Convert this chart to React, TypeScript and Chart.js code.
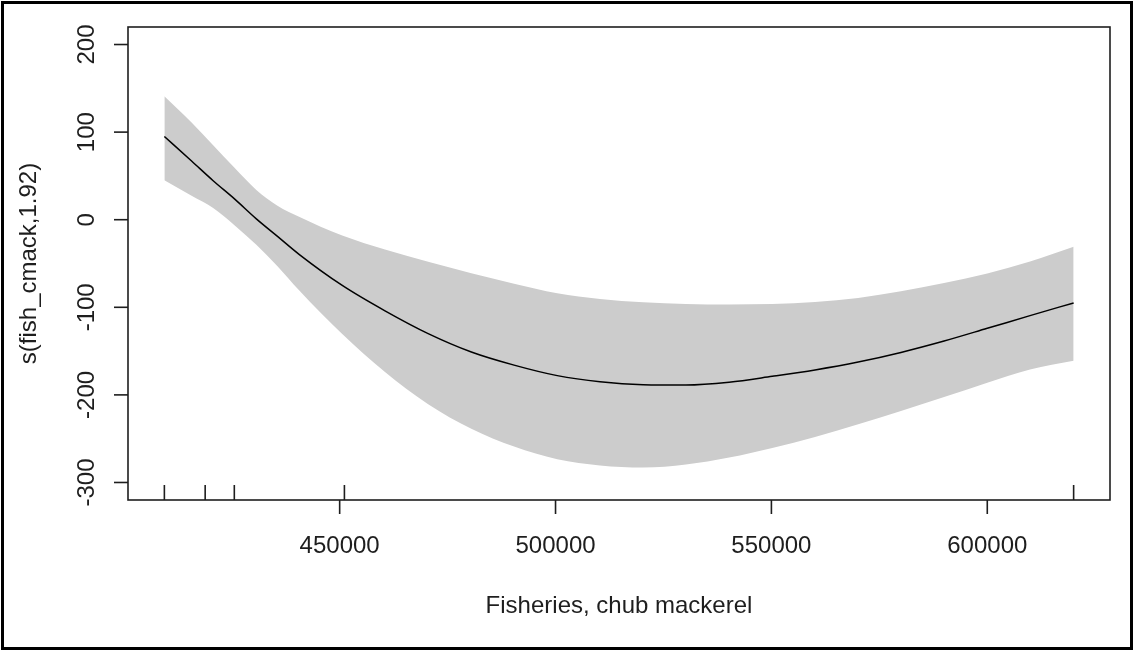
import React, { useEffect, useRef } from "react";
import { Chart, registerables } from "chart.js";

Chart.register(...registerables);

// Smooth term of the GAM: fitted curve with its confidence band
const xPoints = [
  409400, 415700, 420700, 425700, 430700, 435600, 440600, 450600, 460500, 470500, 480500, 490400,
  500400, 510300, 520300, 530200, 540200, 550200, 560100, 570100, 580000, 590000, 600000, 609900,
  620000,
];
const fitValues = [
  95, 67, 44.5, 23.5, 1, -19, -39.5, -75, -104, -130, -151, -166,
  -178, -185, -188.3, -188.7, -185.5, -178.8, -171.5, -162.5, -151.5, -138.5, -124, -109.5,
  -95,
];
const upperValues = [
  141, 111, 85, 59, 34, 16, 3.5, -18, -34, -48, -61, -73,
  -84, -90.5, -94.3, -96.2, -96.8, -96.3, -94, -89.3, -81.8, -72.3, -61.3, -47.7,
  -31,
];
const lowerValues = [
  45, 27.4, 13.4, -6.5, -28.6, -53, -80.6, -130.6, -174, -210.6, -238.6, -259,
  -273.5, -280.5, -283, -279.5, -271.5, -260.5, -248, -233.5, -218.5, -202.5, -186, -171,
  -161,
];

// Observed covariate values (rug marks)
const rugValues = [409400, 418850, 425600, 451100, 620000];

// Axis ticks and titles
const xTickValues = [450000, 500000, 550000, 600000];
const yTickValues = [-300, -200, -100, 0, 100, 200];
const xTitle = "Fisheries, chub mackerel";
const yTitle = "s(fish_cmack,1.92)";

const X_MIN = 400976;
const X_MAX = 628424;
const Y_MIN = -320;
const Y_MAX = 220;

const FONT = '24px "Liberation Sans", Arial, sans-serif';
const INK = "#1e1e1e";

// Base-graphics style frame: box, outward ticks, rotated y labels, rug
const basePlotFrame = {
  id: "basePlotFrame",
  afterDatasetsDraw(chart: any) {
    const { ctx, chartArea: a, scales } = chart;
    const xs = scales.x;
    const ys = scales.y;
    ctx.save();

    ctx.strokeStyle = INK;
    ctx.lineWidth = 1.6;
    ctx.strokeRect(a.left, a.top, a.right - a.left, a.bottom - a.top);

    ctx.fillStyle = INK;
    ctx.font = FONT;

    // x axis ticks and labels
    ctx.textAlign = "center";
    ctx.textBaseline = "alphabetic";
    xTickValues.forEach((v) => {
      const px = xs.getPixelForValue(v);
      ctx.beginPath();
      ctx.moveTo(px, a.bottom);
      ctx.lineTo(px, a.bottom + 14);
      ctx.stroke();
      ctx.fillText(String(v), px, a.bottom + 53);
    });

    // rug along the bottom
    rugValues.forEach((v) => {
      const px = xs.getPixelForValue(v);
      ctx.beginPath();
      ctx.moveTo(px, a.bottom);
      ctx.lineTo(px, a.bottom - 15);
      ctx.stroke();
    });

    // y axis ticks and rotated labels
    yTickValues.forEach((v) => {
      const py = ys.getPixelForValue(v);
      ctx.beginPath();
      ctx.moveTo(a.left, py);
      ctx.lineTo(a.left - 14, py);
      ctx.stroke();
      ctx.save();
      ctx.translate(a.left - 34, py);
      ctx.rotate(-Math.PI / 2);
      ctx.textAlign = "center";
      ctx.fillText(String(v), 0, 0);
      ctx.restore();
    });

    // axis titles
    ctx.textAlign = "center";
    ctx.fillText(xTitle, (a.left + a.right) / 2, a.bottom + 113);
    ctx.save();
    ctx.translate(a.left - 92.5, (a.top + a.bottom) / 2);
    ctx.rotate(-Math.PI / 2);
    ctx.fillText(yTitle, 0, 0);
    ctx.restore();

    ctx.restore();
  },
  afterDraw(chart: any) {
    const { ctx } = chart;
    ctx.save();
    ctx.strokeStyle = "#000";
    ctx.lineWidth = 3;
    ctx.strokeRect(2.5, 2.5, 1129, 646);
    ctx.restore();
  },
};

const toPoints = (ys: number[]) => xPoints.map((x, i) => ({ x, y: ys[i] }));

export default function App() {
  const canvasRef = useRef<HTMLCanvasElement | null>(null);

  useEffect(() => {
    if (!canvasRef.current) return;
    const chart = new Chart(canvasRef.current, {
      type: "line",
      data: {
        datasets: [
          {
            label: "upper",
            data: toPoints(upperValues),
            borderWidth: 0,
            borderColor: "rgba(0,0,0,0)",
            backgroundColor: "#cccccc",
            fill: "+1",
            pointRadius: 0,
            cubicInterpolationMode: "monotone",
            order: 2,
          },
          {
            label: "lower",
            data: toPoints(lowerValues),
            borderWidth: 0,
            borderColor: "rgba(0,0,0,0)",
            fill: false,
            pointRadius: 0,
            cubicInterpolationMode: "monotone",
            order: 3,
          },
          {
            label: "fit",
            data: toPoints(fitValues),
            borderWidth: 1.5,
            borderColor: "#000000",
            fill: false,
            pointRadius: 0,
            cubicInterpolationMode: "monotone",
            order: 0,
          },
        ],
      },
      options: {
        responsive: false,
        devicePixelRatio: 1,
        animation: false,
        layout: { padding: { left: 128, top: 27, right: 25, bottom: 150 } },
        scales: {
          x: { type: "linear", min: X_MIN, max: X_MAX, display: false },
          y: { type: "linear", min: Y_MIN, max: Y_MAX, display: false },
        },
        plugins: {
          legend: { display: false },
          tooltip: { enabled: false },
        },
      },
      plugins: [basePlotFrame],
    });
    return () => chart.destroy();
  }, []);

  return (
    <div style={{ position: "fixed", left: 0, top: 0, width: 1135, height: 650, background: "#fff" }}>
      <canvas ref={canvasRef} width={1135} height={650} style={{ display: "block" }} />
    </div>
  );
}
